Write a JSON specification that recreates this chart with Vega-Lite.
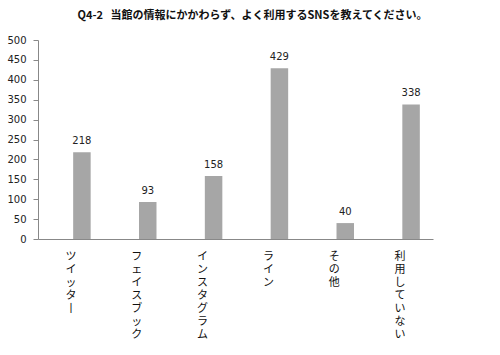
{
  "$schema": "https://vega.github.io/schema/vega-lite/v6.json",
  "width": 395,
  "height": 199,
  "autosize": {"type": "none"},
  "padding": {"left": 38, "top": 40, "right": 67, "bottom": 116},
  "background": "white",
  "title": {
    "text": "Q4-2\u00a0\u00a0\u00a0当館の情報にかかわらず、よく利用するSNSを教えてください。",
    "font": "Noto Sans CJK JP",
    "fontSize": 11,
    "fontWeight": "bold",
    "color": "#111111",
    "anchor": "middle",
    "dx": 17,
    "offset": 14
  },
  "data": {
    "values": [
      {"sns": "ツイッター", "count": 218},
      {"sns": "フェイスブック", "count": 93},
      {"sns": "インスタグラム", "count": 158},
      {"sns": "ライン", "count": 429},
      {"sns": "その他", "count": 40},
      {"sns": "利用していない", "count": 338}
    ]
  },
  "encoding": {
    "x": {
      "field": "sns",
      "type": "nominal",
      "sort": null,
      "scale": {"paddingInner": 0, "paddingOuter": 0},
      "axis": {
        "title": null,
        "labelAngle": 0,
        "labelExpr": "split(replace(datum.label, 'ー', '丨'), '')",
        "labelBaseline": "top",
        "labelAlign": "center",
        "labelLineHeight": 13,
        "labelPadding": 11,
        "labelFont": "Noto Sans CJK JP",
        "labelFontSize": 11,
        "labelColor": "#111111",
        "ticks": false,
        "domainColor": "#888888",
        "grid": false
      }
    },
    "y": {
      "field": "count",
      "type": "quantitative",
      "scale": {"domain": [0, 500]},
      "axis": {
        "title": null,
        "values": [0, 50, 100, 150, 200, 250, 300, 350, 400, 450, 500],
        "grid": false,
        "tickSize": 5,
        "tickColor": "#888888",
        "domainColor": "#888888",
        "labelPadding": 7,
        "labelFont": "DejaVu Sans",
        "labelFontSize": 10,
        "labelColor": "#222222"
      }
    }
  },
  "layer": [
    {
      "mark": {"type": "bar", "color": "#a6a6a6", "width": 17.5, "xOffset": 11}
    },
    {
      "mark": {"type": "text", "xOffset": 11, "dy": -11, "baseline": "middle", "font": "DejaVu Sans", "fontSize": 10, "color": "#222222"},
      "encoding": {"text": {"field": "count", "type": "quantitative"}}
    }
  ],
  "config": {"view": {"stroke": null}}
}
